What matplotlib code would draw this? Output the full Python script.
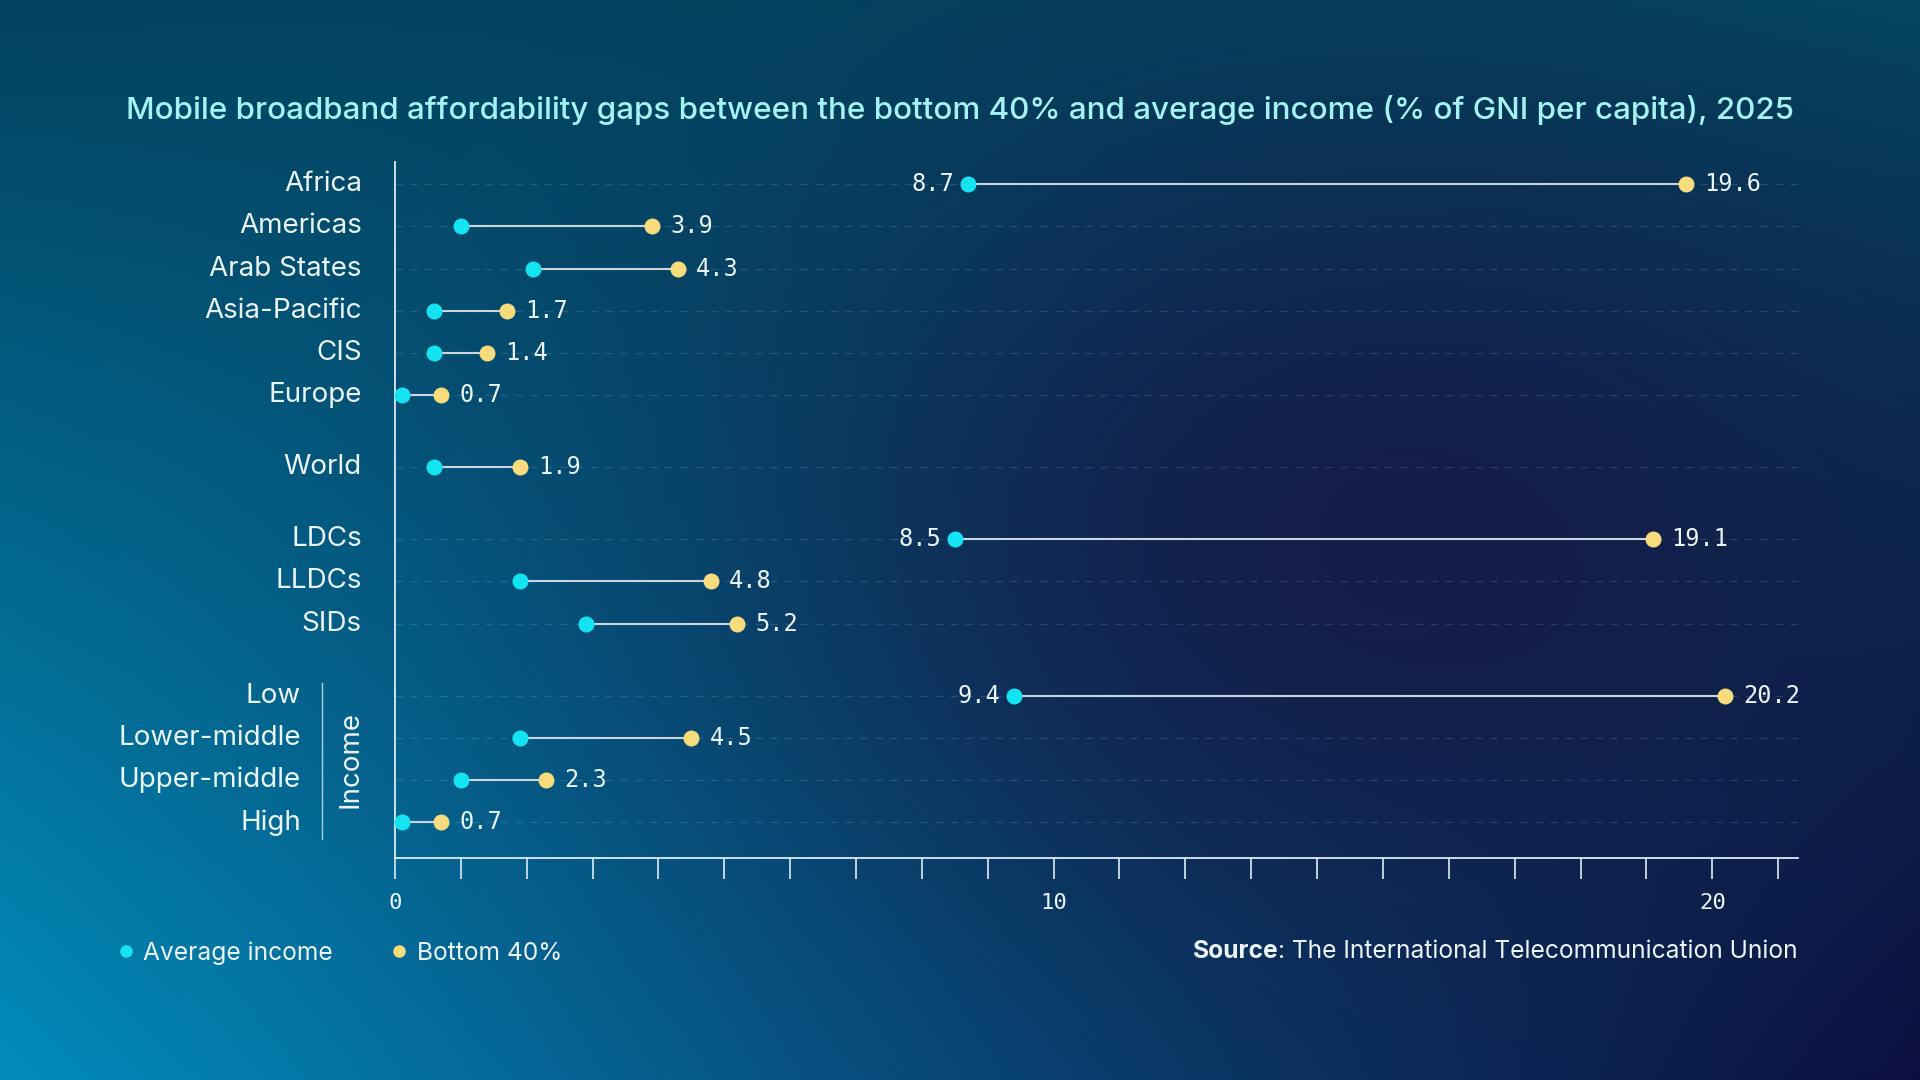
import numpy as np
import matplotlib.pyplot as plt
from matplotlib.lines import Line2D
from matplotlib.transforms import blended_transform_factory

# data
regions = ["Africa", "Americas", "Arab States", "Asia-Pacific", "CIS", "Europe",
           "World", "LDCs", "LLDCs", "SIDs",
           "Low", "Lower-middle", "Upper-middle", "High"]
avg_income = [8.7, 1.0, 2.1, 0.6, 0.6, 0.1, 0.6, 8.5, 1.9, 2.9, 9.4, 1.9, 1.0, 0.1]
bottom_40 = [19.6, 3.9, 4.3, 1.7, 1.4, 0.7, 1.9, 19.1, 4.8, 5.2, 20.2, 4.5, 2.3, 0.7]
group_sizes = [6, 1, 3, 4]
income_groups = ["Low", "Lower-middle", "Upper-middle", "High"]

title = ("Mobile broadband affordability gaps between the bottom 40% and "
         "average income (% of GNI per capita), 2025")
source_text = ": The International Telecommunication Union"

# colours / fonts
CYAN = "#14e4f2"
YELLOW = "#f6dc7c"
TEXT = "#eaf4f6"
SANS = ["Inter", "DejaVu Sans"]
MONO = ["DejaVu Sans Mono"]

# row positions with a gap between groups
ypos = []
y = 0.0
for g, n in enumerate(group_sizes):
    if g > 0:
        y += 0.7
    for i in range(n):
        ypos.append(y)
        y += 1.0
ypos = np.array(ypos)

fig = plt.figure(figsize=(19.2, 10.8), dpi=100)

# gradient background
h, w = 540, 960
yy, xx = np.mgrid[0:1:h * 1j, 0:1:w * 1j]
tl = np.array([0x03, 0x42, 0x5f]) / 255
tr = np.array([0x03, 0x4a, 0x62]) / 255
bl = np.array([0x02, 0x8c, 0xbc]) / 255
br = np.array([0x0b, 0x0e, 0x3e]) / 255
xx3, yy3 = xx[..., None], yy[..., None]
img = (tl * (1 - xx3) * (1 - yy3) + tr * xx3 * (1 - yy3)
       + bl * (1 - xx3) * yy3 + br * xx3 * yy3)
navy = np.array([0x16, 0x18, 0x44]) / 255
blob = np.exp(-(((xx - 0.72) / 0.32) ** 2 + ((yy - 0.5) / 0.42) ** 2))[..., None]
img = img * (1 - 0.85 * blob) + navy * 0.85 * blob
bg = fig.add_axes([0, 0, 1, 1], zorder=-10)
bg.imshow(img, aspect="auto", extent=[0, 1, 0, 1], interpolation="bilinear")
bg.axis("off")

ax = fig.add_axes([0.2057, 0.2056, 0.7307, 0.6444])
ax.patch.set_alpha(0)

for spine in ["top", "right"]:
    ax.spines[spine].set_visible(False)
for spine in ["left", "bottom"]:
    ax.spines[spine].set_color("#dcecf2")
    ax.spines[spine].set_linewidth(1.3)

ax.set_xlim(0, 21.3)
ax.set_ylim(ypos[-1] + 0.84, -0.52)

# grid rows
for yp in ypos:
    ax.axhline(yp, color="white", alpha=0.12, lw=0.9, ls=(0, (6, 6)), zorder=0)

# dumbbells
ax.hlines(ypos, avg_income, bottom_40, color="#c9d6de", lw=1.5, zorder=2)
ax.scatter(avg_income, ypos, s=110, color=CYAN, zorder=3, clip_on=False)
ax.scatter(bottom_40, ypos, s=110, color=YELLOW, zorder=3, clip_on=False)

for a, b, yp in zip(avg_income, bottom_40, ypos):
    ax.annotate(f"{b:.1f}", (b, yp), xytext=(13, 0), textcoords="offset points",
                ha="left", va="center", color=TEXT, fontsize=17, family=MONO)
    if b - a > 5:
        ax.annotate(f"{a:.1f}", (a, yp), xytext=(-10, 0), textcoords="offset points",
                    ha="right", va="center", color=TEXT, fontsize=17, family=MONO)

# x axis
ax.set_xticks([0, 10, 20])
ax.set_xticks(range(1, 22), minor=True)
ax.set_xticklabels(["0", "10", "20"], family=MONO, fontsize=16, color=TEXT)
ax.tick_params(axis="x", which="both", length=15, width=1.2, color="#dcecf2",
               direction="out", pad=10)
ax.set_yticks([])

# y labels
trans = blended_transform_factory(fig.transFigure, ax.transData)
for name, yp in zip(regions, ypos):
    xl = 0.1568 if name in income_groups else 0.1885
    ax.text(xl, yp, name, transform=trans, ha="right", va="center",
            fontsize=20, color=TEXT, family=SANS)

income_y = ypos[-4:]
ax.add_line(Line2D([0.1677, 0.1677], [income_y[0] - 0.3, income_y[-1] + 0.38],
                   transform=trans, color="#a9cfdc", lw=1.0, clip_on=False))
ax.text(0.1828, income_y.mean(), "Income", transform=trans, rotation=90,
        ha="center", va="center", fontsize=20, color=TEXT, family=SANS)

# title
fig.text(0.5, 1 - 110 / 1080, title, ha="center", va="center", fontsize=22.6,
         color="#a3f3f3", family=SANS, fontweight="medium")

# legend
handles = [Line2D([], [], ls="none", marker="o", ms=8, color=CYAN),
           Line2D([], [], ls="none", marker="o", ms=8, color=YELLOW)]
fig.legend(handles, ["Average income", "Bottom 40%"], loc="center left",
           bbox_to_anchor=(0.049, 1 - 953 / 1080), ncol=2, frameon=False,
           handletextpad=0.3, columnspacing=2.3, handlelength=0.8,
           prop={"family": SANS, "size": 17.7}, labelcolor=TEXT)

# source
src = fig.text(0.9365, 1 - 952 / 1080, source_text, ha="right", va="center",
               fontsize=17.7, color=TEXT, family=SANS)
renderer = fig.canvas.get_renderer()
bb = src.get_window_extent(renderer).transformed(fig.transFigure.inverted())
fig.text(bb.x0, 1 - 952 / 1080, "Source", ha="right", va="center",
         fontsize=17.7, color=TEXT, family=SANS, fontweight="bold")

fig.savefig("out.png", dpi=100)
